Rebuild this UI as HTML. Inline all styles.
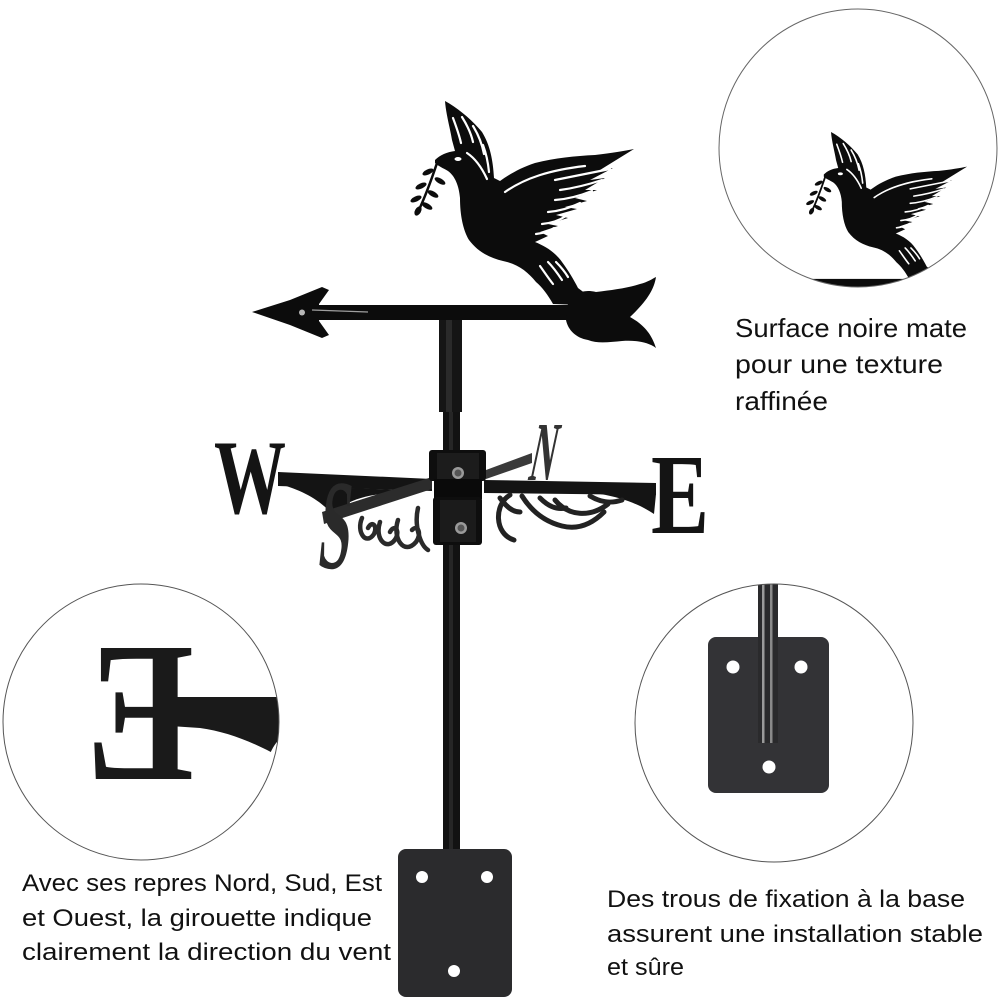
<!DOCTYPE html>
<html><head><meta charset="utf-8"><style>
html,body{margin:0;padding:0;background:#fff;}
svg{display:block;}
text{font-family:"Liberation Sans",sans-serif;fill:#111;}
.lt{font-family:"Liberation Serif",serif;font-weight:bold;}
</style></head><body>
<svg width="1000" height="1000" viewBox="0 0 1000 1000" xmlns="http://www.w3.org/2000/svg">
<defs>
  <clipPath id="c1"><circle cx="858" cy="148" r="139"/></clipPath>
  <clipPath id="c2"><circle cx="141" cy="722" r="138"/></clipPath>
  <clipPath id="c3"><circle cx="774" cy="723" r="139"/></clipPath>
  <g id="dove">
    <!-- arrow head -->
    <path d="M252,312 L290,300 L322,287 L329,290 L319,304 L319,321 L329,335 L322,338 L290,325 Z" fill="#0c0c0c"/>
    <rect x="315" y="305" width="285" height="15" fill="#0c0c0c"/>
    <circle cx="302" cy="312.5" r="3" fill="#fff" opacity="0.7"/>
    <path d="M312,310 L368,312" stroke="#fff" stroke-width="1.3" opacity="0.6"/>
    <!-- tail -->
    <path d="M568,303 C574,293 583,289 596,292 C612,290 628,288 640,284 C648,282 652,279 656,277 C654,290 646,302 630,317 C646,326 652,336 656,348 C648,342 636,340 622,341 C610,342 598,344 588,340 C576,338 568,330 566,320 Z" fill="#0c0c0c"/>
    <!-- dove body -->
    <path d="M435,160 C440,155 447,152 455,151 L452,140 C450,128 446,114 445,101 C458,108 472,120 482,132 C490,145 493,160 494,178 L500,181 C510,174 520,168 535,163 C555,158 575,156 595,155 C612,153 624,151 634,149 L600,170 L613,168 L590,180 L605,178 L585,190 L597,190 L575,198 L587,201 L565,207 L577,209 L556,215 L568,218 L548,224 L558,226 L540,232 L548,236 L535,242 C545,246 555,252 562,262 C568,270 574,280 578,288 L586,294 C591,299 590,304 581,305 L553,304 C548,295 542,287 536,282 C528,272 518,264 503,261 C490,258 478,252 469,240 C463,230 460,215 460,198 C459,186 455,176 448,171 C443,168 438,166 435,163 Z" fill="#0c0c0c"/>
    <!-- white details -->
    <g stroke="#fff" stroke-width="2.2" fill="none" stroke-linecap="round">
      <path d="M453,118 C456,126 459,134 461,143"/>
      <path d="M462,117 C467,125 471,133 473,142"/>
      <path d="M473,126 C478,134 482,144 484,154"/>
      <path d="M483,145 C486,153 488,162 489,172"/>
      <path d="M467,153 C476,159 482,168 487,179"/>
      <path d="M505,192 C525,178 550,170 585,166"/>
      <path d="M555,180 C575,176 595,172 610,169"/>
      <path d="M560,190 C575,188 590,184 602,180"/>
      <path d="M555,200 C570,199 582,195 592,191"/>
      <path d="M548,212 C560,211 572,207 580,203"/>
      <path d="M542,224 C552,223 560,220 566,216"/>
      <path d="M536,234 C545,233 550,231 554,228"/>
      <path d="M540,266 C545,273 549,279 553,284"/>
      <path d="M548,262 C554,268 558,274 562,280"/>
      <path d="M556,262 C561,267 565,272 568,277"/>
    </g>
    <ellipse cx="458" cy="159" rx="3.5" ry="2" fill="#fff"/>
    <!-- olive branch -->
    <path d="M437,163 C432,178 426,195 418,212" stroke="#0c0c0c" stroke-width="2.5" fill="none"/>
    <g fill="#0c0c0c">
      <ellipse cx="428" cy="172" rx="6" ry="2.6" transform="rotate(-25 428 172)"/>
      <ellipse cx="440" cy="181" rx="6" ry="2.6" transform="rotate(30 440 181)"/>
      <ellipse cx="421" cy="186" rx="6" ry="2.6" transform="rotate(-25 421 186)"/>
      <ellipse cx="433" cy="194" rx="6" ry="2.6" transform="rotate(30 433 194)"/>
      <ellipse cx="416" cy="199" rx="6" ry="2.6" transform="rotate(-25 416 199)"/>
      <ellipse cx="427" cy="206" rx="6" ry="2.6" transform="rotate(30 427 206)"/>
      <ellipse cx="418" cy="211" rx="5" ry="3" transform="rotate(-60 418 211)"/>
    </g>
  </g>
</defs>

<!-- main pole -->
<rect x="439" y="320" width="23" height="92" fill="#151515"/>
<rect x="446" y="320" width="6" height="92" fill="#2a2a2a"/>
<rect x="443" y="412" width="17" height="440" fill="#121212"/>
<rect x="449" y="412" width="4" height="440" fill="#262626"/>

<use href="#dove"/>

<!-- crossbar: W side -->
<polygon points="278,472 432,479 432,491 278,486" fill="#141414"/>
<path d="M280,484 C300,490 318,498 332,514 L345,508 C360,500 380,494 400,490 L300,486 Z" fill="#141414"/>
<path d="M348,503 C360,497 375,494 385,494 C372,500 360,504 350,508 Z" fill="#fff"/>
<text class="lt" x="214" y="513" font-size="106" textLength="72" lengthAdjust="spacingAndGlyphs" style="fill:#141414">W</text>
<!-- diagonal S-N bar -->
<polygon points="322,512 432,477 432,489 324,524" fill="#2c2c2c"/>
<polygon points="486,470 532,453 532,463 486,479" fill="#3a3a3a"/>
<text class="lt" x="0" y="0" font-size="128" textLength="32" lengthAdjust="spacingAndGlyphs" style="fill:#2a2a2a" transform="translate(316,568) skewX(-6)">S</text>
<text class="lt" x="0" y="0" font-size="84" textLength="24" lengthAdjust="spacingAndGlyphs" style="fill:#333" transform="translate(527,480) skewX(-12)">N</text>
<!-- S side ornaments -->
<g stroke="#2a2a2a" stroke-width="4.5" fill="none" stroke-linecap="round">
  <path d="M362,518 C356,532 366,546 374,534 C378,526 372,520 368,528"/>
  <path d="M380,522 C374,540 388,552 396,538 C400,530 394,524 390,532"/>
  <path d="M398,520 C392,538 404,556 416,542 C422,534 418,524 412,530"/>
  <path d="M418,508 C414,525 420,545 428,550"/>
</g>
<!-- E side -->
<polygon points="484,480 656,483 656,495 484,493" fill="#141414"/>
<path d="M656,494 L600,494 C625,498 642,506 654,514 Z" fill="#141414"/>
<text class="lt" x="651" y="533" font-size="114" textLength="58" lengthAdjust="spacingAndGlyphs" style="fill:#141414">E</text>
<g stroke="#222" stroke-width="5" fill="none" stroke-linecap="round">
  <path d="M510,495 C494,504 494,534 514,540"/>
  <path d="M500,498 C506,506 512,512 520,512"/>
  <path d="M522,496 C532,512 546,522 562,526 C578,530 592,524 604,512"/>
  <path d="M555,500 C568,516 590,518 608,504"/>
  <path d="M540,498 C548,506 556,510 566,508"/>
  <path d="M590,496 C600,502 610,504 622,500"/>
</g>
<!-- hub -->
<rect x="429" y="450" width="57" height="31" rx="3" fill="#0e0e0e"/>
<rect x="437" y="453" width="42" height="26" fill="#1c1c1c"/>
<rect x="434" y="479" width="48" height="20" fill="#0a0a0a"/>
<rect x="433" y="497" width="49" height="48" rx="3" fill="#0e0e0e"/>
<rect x="440" y="500" width="36" height="42" fill="#1b1b1b"/>
<circle cx="458" cy="473" r="6" fill="#9a9a9a"/><circle cx="458" cy="473" r="3.5" fill="#555"/>
<circle cx="461" cy="528" r="6" fill="#9a9a9a"/><circle cx="461" cy="528" r="3.5" fill="#555"/>

<!-- bottom plate -->
<rect x="398" y="849" width="114" height="148" rx="8" fill="#2b2b2d"/>
<circle cx="422" cy="877" r="6" fill="#fff"/>
<circle cx="487" cy="877" r="6" fill="#fff"/>
<circle cx="454" cy="971" r="6" fill="#fff"/>

<!-- top-right circle -->
<g clip-path="url(#c1)">
  <g transform="translate(510.6,59.3) scale(0.72)"><use href="#dove"/></g>
</g>
<circle cx="858" cy="148" r="139" fill="none" stroke="#666" stroke-width="1"/>

<!-- left circle -->
<g clip-path="url(#c2)">
  <path d="M170,697 L285,697 L285,760 C260,745 230,732 200,728 L170,726 Z" fill="#1a1a1a"/>
  <path d="M268,760 C272,745 280,738 285,735 L285,770 Z" fill="#fff"/>
  <text class="lt" x="0" y="0" font-size="200" textLength="108" lengthAdjust="spacingAndGlyphs" style="fill:#1a1a1a" transform="translate(194,779) scale(-1,1)">E</text>
</g>
<circle cx="141" cy="722" r="138" fill="none" stroke="#555" stroke-width="1"/>

<!-- bottom-right circle -->
<g clip-path="url(#c3)">
  <rect x="708" y="637" width="121" height="156" rx="8" fill="#333336"/>
  <circle cx="733" cy="667" r="6.5" fill="#fff"/>
  <circle cx="801" cy="667" r="6.5" fill="#fff"/>
  <circle cx="769" cy="767" r="6.5" fill="#fff"/>
  <rect x="758" y="580" width="20" height="163" fill="#2a2a2c"/>
  <rect x="762" y="580" width="2.5" height="163" fill="#9a9a9a"/>
  <rect x="770" y="580" width="2.5" height="163" fill="#8a8a8a"/>
</g>
<circle cx="774" cy="723" r="139" fill="none" stroke="#555" stroke-width="1"/>

<!-- texts -->
<text x="735" y="337" font-size="26" textLength="232" lengthAdjust="spacingAndGlyphs">Surface noire mate</text>
<text x="735" y="373" font-size="26" textLength="208" lengthAdjust="spacingAndGlyphs">pour une texture</text>
<text x="735" y="410" font-size="26" textLength="93" lengthAdjust="spacingAndGlyphs">raffinée</text>

<text x="22" y="891" font-size="24" textLength="360" lengthAdjust="spacingAndGlyphs">Avec ses repres Nord, Sud, Est</text>
<text x="22" y="926" font-size="24" textLength="350" lengthAdjust="spacingAndGlyphs">et Ouest, la girouette indique</text>
<text x="22" y="960" font-size="24" textLength="369" lengthAdjust="spacingAndGlyphs">clairement la direction du vent</text>

<text x="607" y="907" font-size="24" textLength="358" lengthAdjust="spacingAndGlyphs">Des trous de fixation à la base</text>
<text x="607" y="942" font-size="24" textLength="376" lengthAdjust="spacingAndGlyphs">assurent une installation stable</text>
<text x="607" y="975" font-size="24" textLength="77" lengthAdjust="spacingAndGlyphs">et sûre</text>
</svg>
</body></html>
